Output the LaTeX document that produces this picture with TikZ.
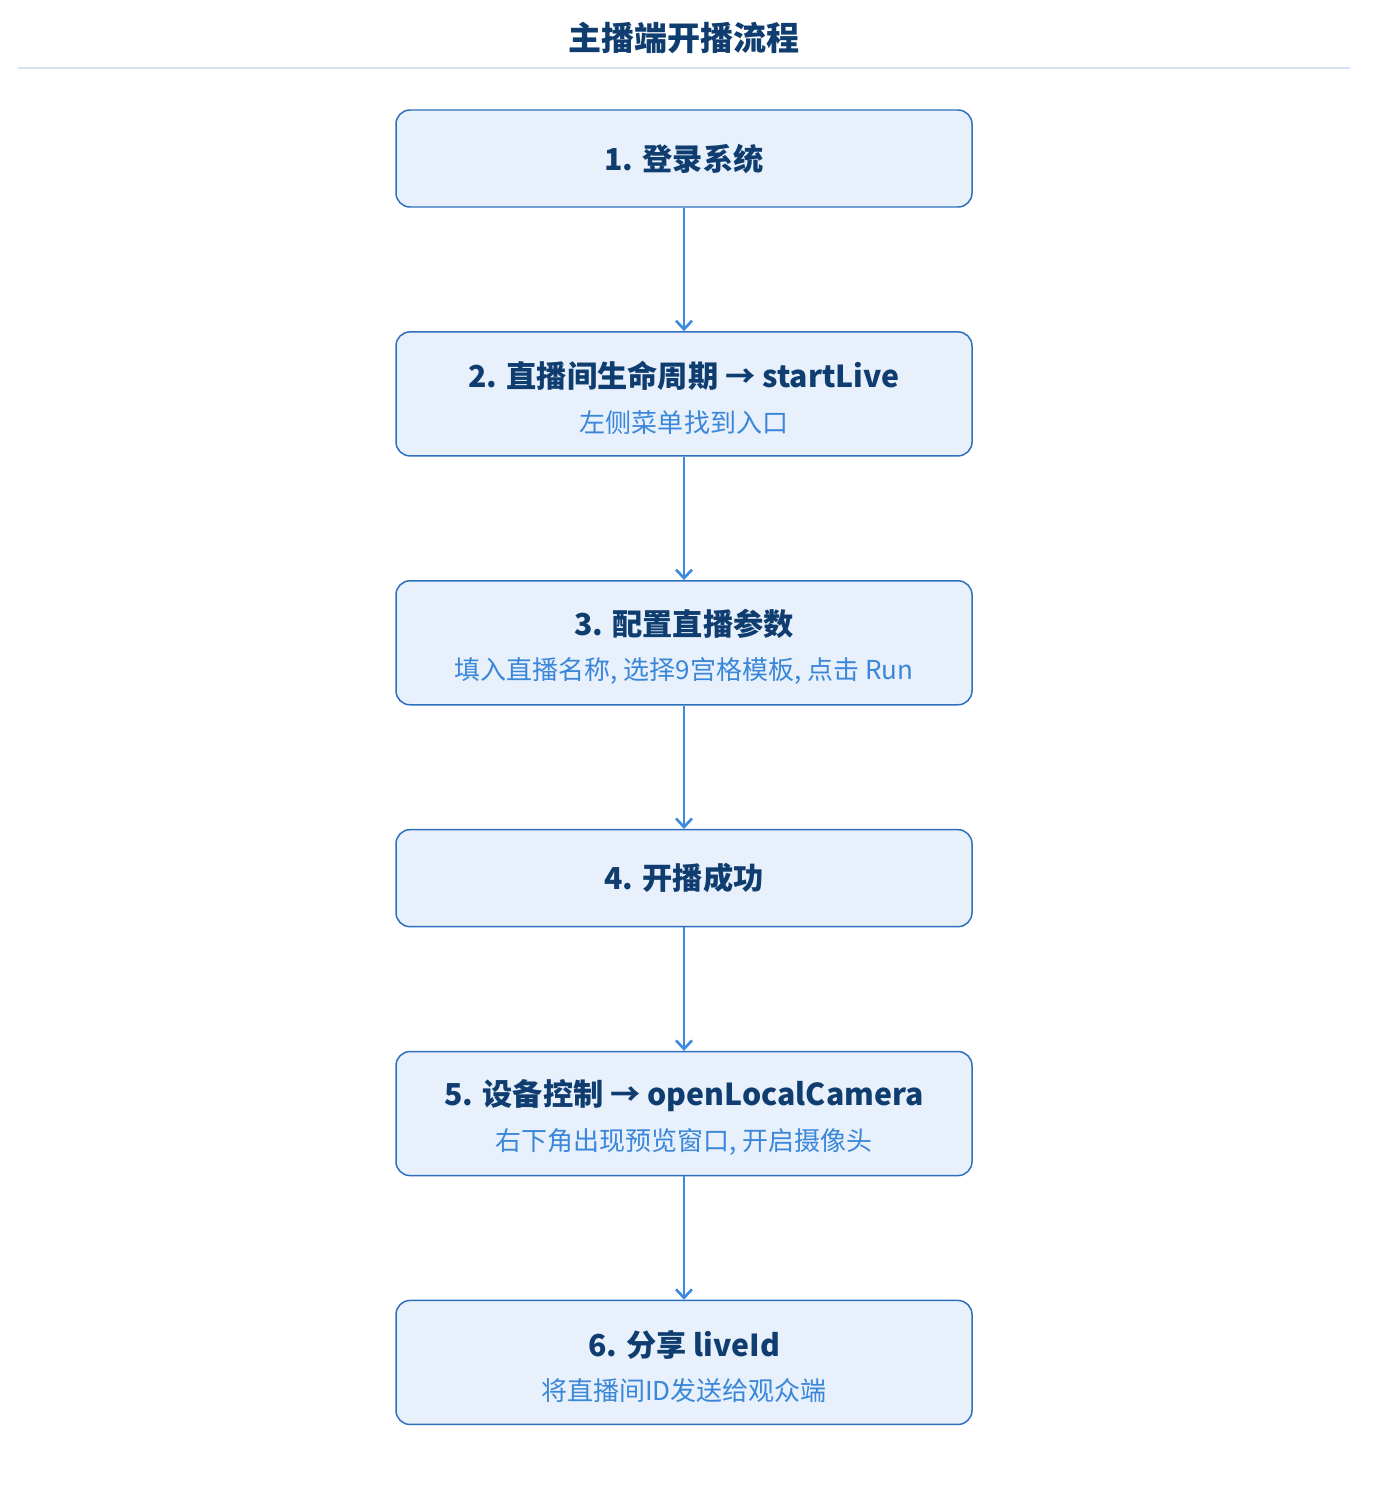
\documentclass[tikz,border=0pt]{standalone}
\usepackage{fontspec}
\setmainfont{Noto Sans CJK SC}
\usepackage{tikz}
\usetikzlibrary{positioning,arrows.meta}

\definecolor{titleblue}{HTML}{0F3D70}
\definecolor{subblue}{HTML}{3A87D9}
\definecolor{boxfill}{HTML}{E7F0FB}
\definecolor{boxline}{HTML}{2F6FBF}
\definecolor{arrowblue}{HTML}{3D8BE0}
\definecolor{ruleblue}{HTML}{D4E4F4}

\newcommand{\subtxt}[1]{{\color{subblue}\mdseries\fontsize{14.8}{18}\selectfont #1}}
\newcommand{\topstrut}{\rule{0pt}{19.5pt}}

\begin{document}
\begin{tikzpicture}[
    stepbox/.style={shape=rectangle, rounded corners=0.28cm, draw=boxline, line width=0.85pt,
                    fill=boxfill, minimum width=11.52cm, minimum height=1.94cm, align=center,
                    text=titleblue, font=\bfseries\fontsize{17.2}{25.5}\selectfont},
    tallbox/.style={stepbox, minimum height=2.48cm},
    flowarrow/.style={draw=arrowblue, line width=1.5pt, -{Straight Barb[length=0.17cm,width=0.32cm]}},
    node distance=2.468cm]
\fill[white] (0,0) rectangle (27.72,-29.76);
\useasboundingbox (0,0) rectangle (27.72,-29.76);

% title and rule
\node[text=titleblue, font=\bfseries\fontsize{18.8}{22}\selectfont] (title) at (13.68,-0.76) {主播端开播流程};
\coordinate (ruleL) at (0.36,-1.36);
\coordinate (ruleR) at (27.0,-1.36);
\draw[ruleblue, line width=1.1pt] (ruleL) -- (ruleR);

% steps
\node[stepbox] (login) at (13.68,-3.17) {1. 登录系统};
\node[tallbox, below=of login] (start) {\topstrut 2. 直播间生命周期 → startLive\\ \subtxt{左侧菜单找到入口}};
\node[tallbox, below=of start] (config) {\topstrut 3. 配置直播参数\\ \subtxt{填入直播名称, 选择9宫格模板, 点击 Run}};
\node[stepbox, below=of config] (success) {4. 开播成功};
\node[tallbox, below=of success] (device) {\topstrut 5. 设备控制 → openLocalCamera\\ \subtxt{右下角出现预览窗口, 开启摄像头}};
\node[tallbox, below=of device] (share) {\topstrut 6. 分享 liveId\\ \subtxt{将直播间ID发送给观众端}};

% arrows
\draw[flowarrow] (login) -- (start);
\draw[flowarrow] (start) -- (config);
\draw[flowarrow] (config) -- (success);
\draw[flowarrow] (success) -- (device);
\draw[flowarrow] (device) -- (share);
\end{tikzpicture}
\end{document}
